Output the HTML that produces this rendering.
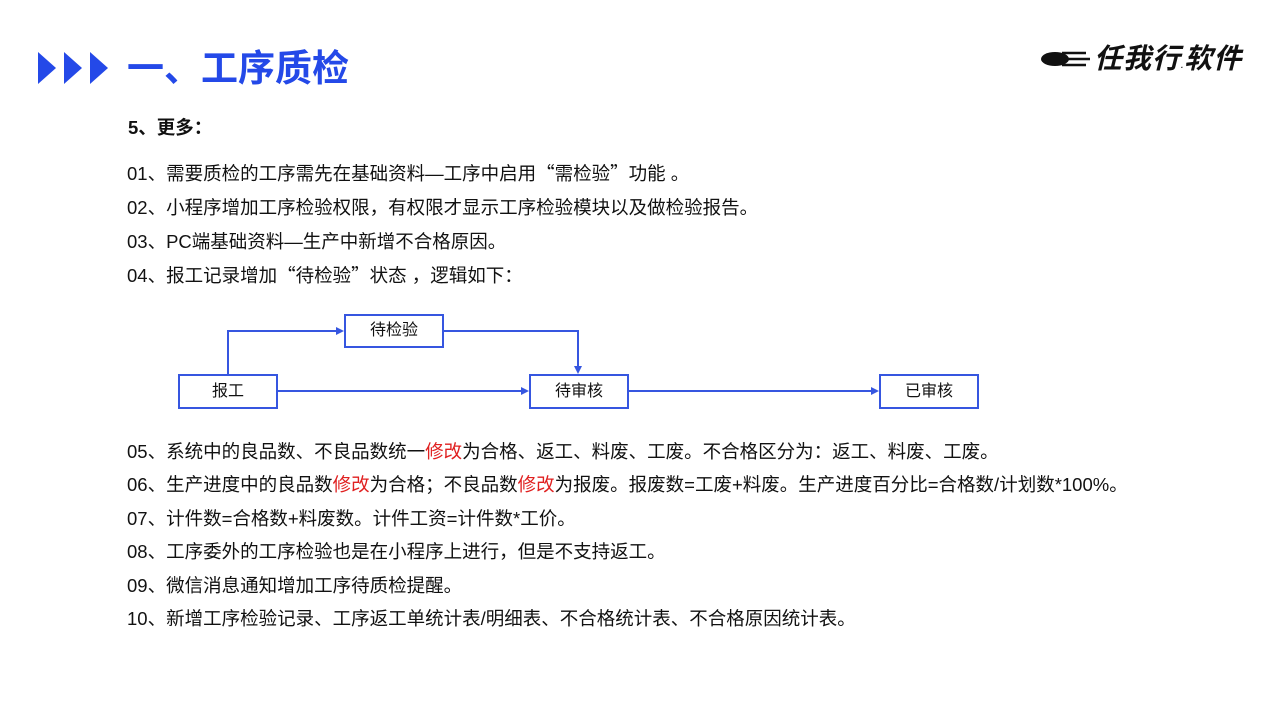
<!DOCTYPE html>
<html><head><meta charset="utf-8"><style>
body{margin:0;width:1280px;height:720px;background:#fff;position:relative;overflow:hidden;font-family:"Liberation Sans","Noto Sans CJK SC",sans-serif;color:#111}
.t{position:absolute;left:127px;font-size:18.5px;white-space:nowrap;line-height:22px}
.r{color:#e02020}
.q{font-family:"Noto Sans CJK SC",sans-serif}
.box{position:absolute;border:2px solid #3656e0;box-sizing:border-box;width:100px;height:35px;text-align:center;line-height:31px;font-size:16px;background:#fff}
</style></head><body>
<svg style="position:absolute;left:0;top:0" width="1280" height="720">
<polygon points="38,52 56,68 38,84" fill="#2449e8"/>
<polygon points="64,52 82,68 64,84" fill="#2449e8"/>
<polygon points="90,52 108,68 90,84" fill="#2449e8"/>
<ellipse cx="1055" cy="59" rx="14" ry="7" fill="#111"/>
<g stroke="#111" stroke-width="2.5"><line x1="1062" y1="53" x2="1086" y2="53"/><line x1="1064" y1="59" x2="1090" y2="59"/><line x1="1062" y1="65" x2="1086" y2="65"/></g>
<g fill="none" stroke="#3656e0" stroke-width="2">
<polyline points="228,374 228,331 338,331"/>
<polyline points="443,331 578,331 578,368"/>
<line x1="277" y1="391" x2="523" y2="391"/>
<line x1="628" y1="391" x2="873" y2="391"/>
</g>
<g fill="#3656e0">
<polygon points="344,331 336,327 336,335"/>
<polygon points="578,374 574,366 582,366"/>
<polygon points="529,391 521,387 521,395"/>
<polygon points="879,391 871,387 871,395"/>
</g>
</svg>
<div style="position:absolute;left:127px;top:46px;font-size:37px;font-weight:bold;color:#2449e8;line-height:46px">一、工序质检</div>
<div style="position:absolute;left:1094px;top:42px;font-size:28px;font-weight:bold;font-style:italic;color:#111;line-height:34px;letter-spacing:1px">任我行<span style="font-size:8px">.</span>软件</div>
<div class="t" style="top:117px;left:128px;font-weight:bold">5、更多：</div>
<div class="t" style="top:162px">01、需要质检的工序需先在基础资料—工序中启用<span class="q">“</span>需检验<span class="q">”</span>功能 。</div>
<div class="t" style="top:197px">02、小程序增加工序检验权限，有权限才显示工序检验模块以及做检验报告。</div>
<div class="t" style="top:231px">03、PC端基础资料—生产中新增不合格原因。</div>
<div class="t" style="top:264px">04、报工记录增加<span class="q">“</span>待检验<span class="q">”</span>状态 ，逻辑如下：</div>
<div class="box" style="left:178px;top:374px">报工</div>
<div class="box" style="left:344px;top:314px;height:34px;line-height:30px">待检验</div>
<div class="box" style="left:529px;top:374px">待审核</div>
<div class="box" style="left:879px;top:374px">已审核</div>
<div class="t" style="top:441px">05、系统中的良品数、不良品数统一<span class="r">修改</span>为合格、返工、料废、工废。不合格区分为：返工、料废、工废。</div>
<div class="t" style="top:474px">06、生产进度中的良品数<span class="r">修改</span>为合格；不良品数<span class="r">修改</span>为报废。报废数=工废+料废。生产进度百分比=合格数/计划数*100%。</div>
<div class="t" style="top:508px">07、计件数=合格数+料废数。计件工资=计件数*工价。</div>
<div class="t" style="top:541px">08、工序委外的工序检验也是在小程序上进行，但是不支持返工。</div>
<div class="t" style="top:575px">09、微信消息通知增加工序待质检提醒。</div>
<div class="t" style="top:608px">10、新增工序检验记录、工序返工单统计表/明细表、不合格统计表、不合格原因统计表。</div>
</body></html>
